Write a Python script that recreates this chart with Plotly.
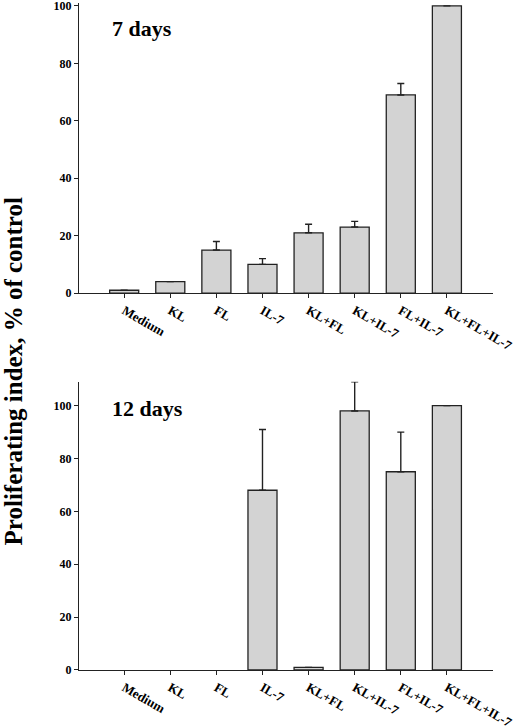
import plotly.graph_objects as go

categories = ["Medium", "KL", "FL", "IL-7", "KL+FL", "KL+IL-7", "FL+IL-7", "KL+FL+IL-7"]

# 7 days
day7_values = [1, 4, 15, 10, 21, 23, 69, 100]
day7_errors = [0, 0, 3, 2, 3, 2, 4, 0]

# 12 days (no bar drawn for Medium, KL, FL)
day12_values = [None, None, None, 68, 1, 98, 75, 100]
day12_errors = [None, None, None, 23, 0, 11, 15, 0]

serif = "Liberation Serif, Times New Roman, serif"
bar_fill = "#d3d3d3"
ink = "#222222"

fig = go.Figure()

for vals, errs, xa, ya in [(day7_values, day7_errors, "x", "y"),
                           (day12_values, day12_errors, "x2", "y2")]:
    fig.add_trace(go.Bar(
        x=categories, y=vals, xaxis=xa, yaxis=ya,
        marker=dict(color=bar_fill, line=dict(color=ink, width=1.3)),
        error_y=dict(type="data", symmetric=False, array=errs,
                     arrayminus=[0] * len(errs), color=ink,
                     thickness=1.4, width=3.5),
        showlegend=False,
    ))

xcommon = dict(type="category", range=[-0.98, 8.0], showgrid=False, zeroline=False,
               showline=True, linecolor=ink, linewidth=1.4, automargin=False,
               ticks="outside", ticklen=4, tickwidth=1.2, tickcolor=ink,
               tickangle=30, ticklabeloverflow="allow",
               tickfont=dict(family=serif, size=13, color="black", weight="bold"))
ycommon = dict(showgrid=False, zeroline=False, showline=True, linecolor=ink, linewidth=1.4,
               ticks="outside", ticklen=4, tickwidth=1.2, tickcolor=ink, automargin=False,
               tickvals=[0, 20, 40, 60, 80, 100], ticklabeloverflow="allow",
               tickfont=dict(family=serif, size=12, color="black", weight="bold"))

fig.update_layout(
    width=520, height=726,
    margin=dict(l=79, r=27, t=3, b=56),
    plot_bgcolor="white", paper_bgcolor="white",
    bargap=0.37,
    xaxis=dict(xcommon, domain=[0, 1], anchor="y"),
    yaxis=dict(ycommon, domain=[0.565, 1.0], range=[0, 101], anchor="x"),
    xaxis2=dict(xcommon, domain=[0, 1], anchor="y2"),
    yaxis2=dict(ycommon, domain=[0.0, 0.432], range=[0, 109], anchor="x2"),
    annotations=[
        dict(text="7 days", xref="x domain", yref="y", x=0.075, y=92,
             xanchor="left", yanchor="middle", showarrow=False,
             font=dict(family=serif, size=22, color="black", weight="bold")),
        dict(text="12 days", xref="x2 domain", yref="y2", x=0.075, y=99,
             xanchor="left", yanchor="middle", showarrow=False,
             font=dict(family=serif, size=22, color="black", weight="bold")),
        dict(text="Proliferating index, % of control", xref="paper", yref="paper",
             x=-0.158, y=0.447, textangle=-90, xanchor="center", yanchor="middle",
             showarrow=False,
             font=dict(family=serif, size=25, color="black", weight="bold")),
    ],
)

fig.write_html("out.html", config={"displayModeBar": False},
               post_script="document.body.style.margin='0';")
